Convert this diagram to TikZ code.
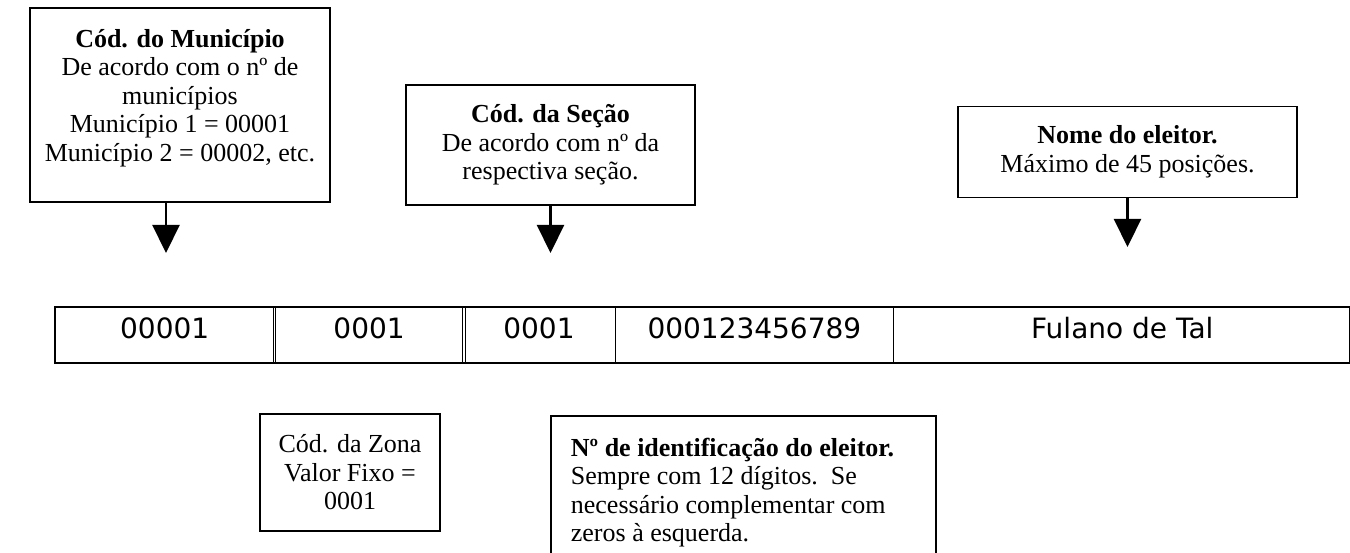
\documentclass[tikz,border=0pt]{standalone}
\usepackage{fontspec}
\setmainfont{Liberation Serif}
\newfontfamily\fieldfont{DejaVu Sans}
\usetikzlibrary{arrows.meta,positioning}

\begin{document}
\begin{tikzpicture}[x=1pt,y=-1pt,>={Triangle[length=28pt,width=27pt]},
  note/.style={draw,line width=1.8pt,align=center,inner sep=0pt,
    font=\fontsize{26}{28.5}\selectfont},
  field/.style={minimum height=56pt,inner sep=0pt,text height=20pt,text depth=14pt,
    font=\fieldfont\fontsize{28}{32}\selectfont},
  sep/.style={double,double distance=1.8pt,line width=0.8pt},
  pointer/.style={->,line width=2.2pt}]

\useasboundingbox (0,0) rectangle (1350,553);

% notes above the record
\node[note,minimum width=300pt,minimum height=194pt] (mun) at (180,105)
  {\textbf{Cód. do Município}\\ De acordo com o nº de\\ municípios\\
   Município 1 = 00001\\ Município 2 = 00002, etc.\\[-9pt]\mbox{}};
\node[note,minimum width=289pt,minimum height=120pt] (sec) at (550.5,145)
  {\textbf{Cód. da Seção}\\ De acordo com nº da\\ respectiva seção.};
\node[note,minimum width=339pt,minimum height=91pt] (nom) at (1127.5,152)
  {\textbf{Nome do eleitor.}\\ Máximo de 45 posições.};

\coordinate (munTip) at (166,253);
\coordinate (secTip) at (550.5,253);
\coordinate (nomTip) at (1127.5,247);

% the record
\node[field,minimum width=219pt,anchor=north west] (zMun) at (55,307) {00001};
\node[field,minimum width=189pt,right=0pt of zMun] (zZon) {0001};
\node[field,minimum width=150pt,right=0pt of zZon] (zSec) {0001};
\node[field,minimum width=280pt,right=0pt of zSec] (zNum) {000123456789};
\node[field,minimum width=455pt,right=0pt of zNum] (zNom) {Fulano de Tal};

\foreach \a in {zMun,zZon,zSec,zNum}
  \draw[sep] (\a.north east) -- (\a.south east);
\draw[line width=1.8pt] (zMun.north west) rectangle (zNom.south east);

% notes below the record
\node[note,align=flush left,text width=345pt,inner xsep=20pt,inner ysep=22pt,
  anchor=north west] (num) at (550,415)
  {\textbf{Nº de identificação do eleitor.}\\ Sempre com 12 dígitos.\ \ Se\\
   necessário complementar com\\ zeros à esquerda.};
\node[note,minimum width=180pt,minimum height=117pt] (zon) at (350,472.5)
  {Cód. da Zona\\ Valor Fixo =\\ 0001};

\draw[pointer] (munTip |- mun.south) -- (munTip);
\draw[pointer] (sec) -- (secTip);
\draw[pointer] (nom) -- (nomTip);
\end{tikzpicture}
\end{document}
